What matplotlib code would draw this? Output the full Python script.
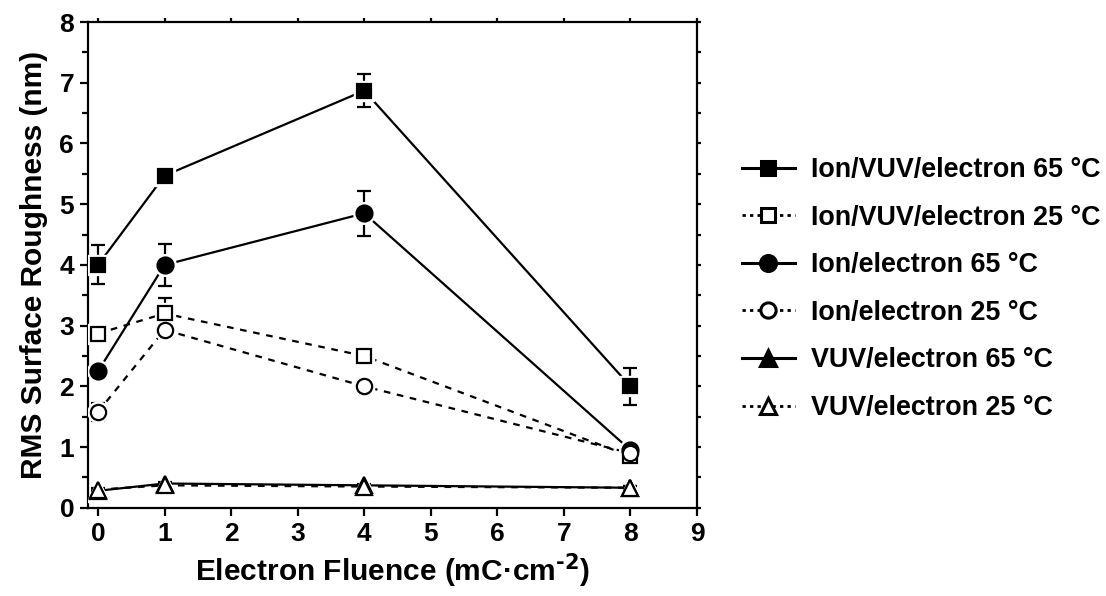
import matplotlib
matplotlib.use("Agg")
import matplotlib.pyplot as plt
from matplotlib.ticker import MultipleLocator

plt.rcParams['font.family'] = ['Liberation Sans', 'DejaVu Sans']
plt.rcParams['font.weight'] = 'bold'
plt.rcParams['mathtext.default'] = 'bf'

fluence = [0, 1, 4, 8]

ivu_65 = [4.0, 5.47, 6.87, 2.0]
ivu_65_err = [0.32, 0.05, 0.27, 0.3]
ivu_25 = [2.87, 3.2, 2.5, 0.85]
ivu_25_err = [0.05, 0.25, 0.05, 0.05]
ie_65 = [2.25, 4.0, 4.85, 0.95]
ie_65_err = [0.1, 0.35, 0.37, 0.03]
ie_25 = [1.58, 2.93, 2.0, 0.9]
ie_25_err = [0.15, 0.1, 0.05, 0.03]
vu_65 = [0.28, 0.4, 0.37, 0.33]
vu_65_err = [0.03, 0.03, 0.03, 0.03]
vu_25 = [0.3, 0.37, 0.35, 0.33]
vu_25_err = [0.03, 0.03, 0.03, 0.03]

series = [
    ("Ion/VUV/electron 65 °C", ivu_65, ivu_65_err, 's', True, '-', 10),
    ("Ion/VUV/electron 25 °C", ivu_25, ivu_25_err, 's', False, (0, (3, 3)), 10),
    ("Ion/electron 65 °C", ie_65, ie_65_err, 'o', True, '-', 11.5),
    ("Ion/electron 25 °C", ie_25, ie_25_err, 'o', False, (0, (3, 3)), 11),
    ("VUV/electron 65 °C", vu_65, vu_65_err, '^', True, '-', 12),
    ("VUV/electron 25 °C", vu_25, vu_25_err, '^', False, (0, (3, 3)), 12),
]

fig = plt.figure(figsize=(11.06, 5.96), dpi=100)
ax = fig.add_axes([0.0796, 0.148, 0.5506, 0.815])

handles = []
for name, vals, err, mk, filled, ls, ms in series:
    ax.errorbar(fluence, vals, yerr=err, fmt='none', ecolor='black',
                elinewidth=1.6, capsize=5, capthick=1.6, zorder=2)
    ax.plot(fluence, vals, color='black', linestyle=ls, linewidth=1.6, zorder=2)
    # white halo leaves a small gap between the line and the symbol
    ax.plot(fluence, vals, linestyle='none', marker=mk, markersize=ms + 4,
            markerfacecolor='white', markeredgecolor='white', zorder=3)
    ax.plot(fluence, vals, linestyle='none', marker=mk, markersize=ms,
            markerfacecolor='black' if filled else 'white',
            markeredgecolor='black', markeredgewidth=1.6, zorder=4)
    h, = ax.plot([], [], color='black', linestyle=ls if filled else (0, (1.2, 1.5)),
                 linewidth=2.2 if filled else 2, marker=mk, markersize=ms,
                 markerfacecolor='black' if filled else 'white',
                 markeredgecolor='black', markeredgewidth=2.2)
    handles.append((h, name))

ax.set_xlim(-0.15, 9)
ax.set_ylim(0, 8)
ax.xaxis.set_major_locator(MultipleLocator(1))
ax.yaxis.set_major_locator(MultipleLocator(1))
ax.yaxis.set_minor_locator(MultipleLocator(0.5))

for sp in ax.spines.values():
    sp.set_linewidth(1.6)

ax.tick_params(axis='both', which='major', direction='out', length=6, width=1.6,
               labelsize=19, pad=4)
ax.tick_params(axis='y', which='minor', direction='out', length=4, width=1.6)
ax.tick_params(top=True, right=True, which='both')
ax.tick_params(axis='both', which='both', labeltop=False, labelright=False)
for t in ax.xaxis.get_major_ticks():
    t.tick2line.set_markersize(3)
for t in ax.yaxis.get_major_ticks() + ax.yaxis.get_minor_ticks():
    t.tick2line.set_markersize(3)
for lbl in ax.get_xticklabels() + ax.get_yticklabels():
    lbl.set_fontweight('bold')

ax.set_xlabel("Electron Fluence (mC·cm$^{\\text{-2}}$)", fontsize=21.5,
              fontweight='bold', labelpad=4)
ax.set_ylabel("RMS Surface Roughness (nm)", fontsize=21.5, fontweight='bold',
              labelpad=8)

fig.legend([h for h, _ in handles], [n for _, n in handles],
           loc='center left', bbox_to_anchor=(0.649, 0.515), frameon=False,
           handlelength=1.95, handletextpad=0.6, labelspacing=0.8,
           prop={'weight': 'bold', 'size': 19.4})

fig.savefig("out.png", dpi=100)
